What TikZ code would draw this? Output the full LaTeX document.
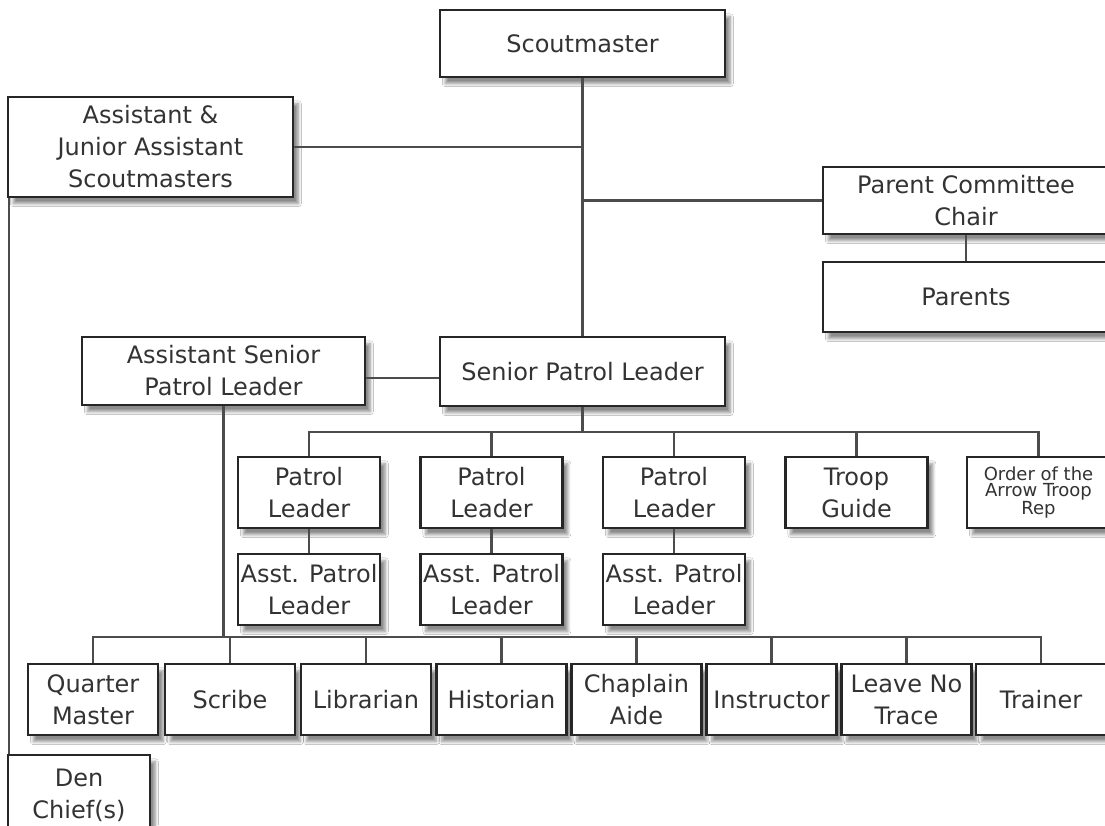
\documentclass[tikz,border=0pt]{standalone}
\usepackage{fontspec}
\setmainfont{DejaVu Sans}
\usetikzlibrary{shadows.blur}
\begin{document}
\begin{tikzpicture}[x=0.75pt,y=-0.75pt,
  box/.style={draw=black!85, line width=1.6pt, fill=white, align=center, inner sep=0pt,
    font=\fontsize{18}{24}\selectfont, text=black!80,
    blur shadow={shadow xshift=4pt, shadow yshift=-5pt, shadow blur steps=8, shadow opacity=45}},
  sz/.style 2 args={minimum width=#1*0.75pt, minimum height=#2*0.75pt},
  conn/.style={draw=black!70, line width=1.6pt}]
\useasboundingbox[fill=white] (0,0) rectangle (1105,825);
% top part
\node[box, sz={285}{67}] (sm) at (582.5,43.5) {Scoutmaster};
\node[box, sz={285}{100}] (asm) at (150.5,147) {Assistant \&\\Junior Assistant\\Scoutmasters};
\node[box, sz={286}{67}] (pcc) at (966,200.5) {Parent Committee\\Chair};
\node[box, sz={286}{70}] (par) at (966,297) {Parents};
\node[box, sz={285}{69}] (spl) at (582.5,371.5) {Senior Patrol Leader};
\node[box, sz={283}{68}] (aspl) at (223.5,371) {Assistant Senior\\Patrol Leader};
% patrol leaders
\node[box, sz={142}{71}] (pl1) at (309,492.5) {Patrol\\Leader};
\node[box, sz={142}{71}] (pl2) at (491.5,492.5) {Patrol\\Leader};
\node[box, sz={142}{71}] (pl3) at (674,492.5) {Patrol\\Leader};
\node[box, sz={142}{71}] (tg) at (856.5,492.5) {Troop\\Guide};
\node[box, sz={143}{71}, font=\fontsize{13.5}{12.5}\selectfont] (oa) at (1038.5,492.5) {Order of the\\Arrow Troop\\Rep};
\node[box, sz={142}{71}] (apl1) at (309,589.5) {Asst. Patrol\\Leader};
\node[box, sz={142}{71}] (apl2) at (491.5,589.5) {Asst. Patrol\\Leader};
\node[box, sz={142}{71}] (apl3) at (674,589.5) {Asst. Patrol\\Leader};
% bottom row
\node[box, sz={130}{71}] (qm) at (93,699.5) {Quarter\\Master};
\node[box, sz={130}{71}] (scr) at (230,699.5) {Scribe};
\node[box, sz={130}{71}] (lib) at (366,699.5) {Librarian};
\node[box, sz={130}{71}] (his) at (501.5,699.5) {Historian};
\node[box, sz={130}{71}] (cha) at (636.5,699.5) {Chaplain\\Aide};
\node[box, sz={130}{71}] (ins) at (771.5,699.5) {Instructor};
\node[box, sz={130}{71}] (lnt) at (906.5,699.5) {Leave No\\Trace};
\node[box, sz={130}{71}] (tr) at (1041,699.5) {Trainer};
\node[box, sz={142}{80}] (den) at (79,795) {Den\\Chief(s)};
% connectors
\draw[conn] (sm.south) -- (spl.north);
\draw[conn] (asm.east) -- (asm.east -| sm.south);
\draw[conn] (pcc.west) -- (pcc.west -| sm.south);
\draw[conn] (pcc.south) -- (par.north);
\draw[conn] ([yshift=-5pt]aspl.east) -- ([yshift=-5pt]aspl.east -| spl.west);
\coordinate (b1) at (582.5,432);
\draw[conn] (spl.south) -- (b1);
\draw[conn] (pl1.north) |- (b1) -| (oa.north);
\foreach \n in {pl2,pl3,tg} \draw[conn] (\n.north) -- (\n.north |- b1);
\draw[conn] (pl1.south) -- (apl1.north);
\draw[conn] (pl2.south) -- (apl2.north);
\draw[conn] (pl3.south) -- (apl3.north);
\coordinate (b2) at (223.5,637);
\draw[conn] (aspl.south) -- (b2);
\draw[conn] (qm.north) |- (b2) -| (tr.north);
\foreach \n in {scr,lib,his,cha,ins,lnt} \draw[conn] (\n.north) -- (\n.north |- b2);
\draw[conn] ([xshift=1.5pt]asm.south west) -- ([xshift=1.5pt]asm.south west |- den.north);
\end{tikzpicture}
\end{document}
